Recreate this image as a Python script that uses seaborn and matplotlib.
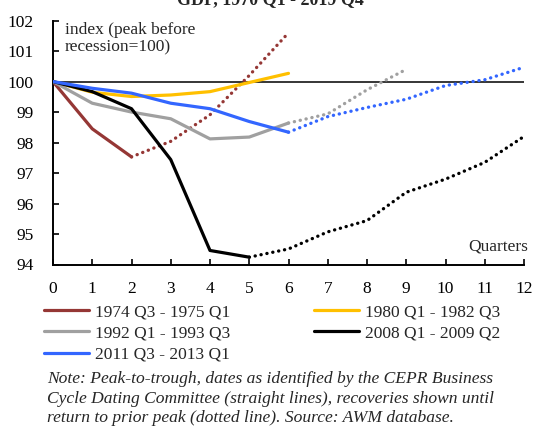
"""GDP recessions in the euro area: peak-to-trough and recovery paths."""

import matplotlib

matplotlib.use("Agg")

import matplotlib.pyplot as plt
import numpy as np
import seaborn as sns

sns.set_theme(style="ticks")
plt.rcParams["font.family"] = ["Liberation Serif", "DejaVu Serif"]

# recession paths (straight lines), quarter 0 = peak
q_1974 = [0, 1, 2]
v_1974 = [100, 98.45, 97.53]
q_1980 = [0, 1, 2, 3, 4, 5, 6]
v_1980 = [100, 99.65, 99.51, 99.56, 99.67, 99.97, 100.27]
q_1992 = [0, 1, 2, 3, 4, 5, 6]
v_1992 = [100, 99.29, 99.0, 98.78, 98.12, 98.18, 98.64]
q_2008 = [0, 1, 2, 3, 4, 5]
v_2008 = [100, 99.67, 99.11, 97.44, 94.46, 94.24]
q_2011 = [0, 1, 2, 3, 4, 5, 6]
v_2011 = [100, 99.78, 99.62, 99.29, 99.11, 98.69, 98.34]

# recoveries (dotted lines)
rq_1974 = [2, 3, 4, 5, 6]
rv_1974 = [97.53, 98.04, 98.91, 100.2, 101.6]
rq_1992 = [6, 7, 8, 9]
rv_1992 = [98.64, 98.94, 99.73, 100.4]
rq_2008 = [5, 6, 7, 8, 9, 10, 11, 12]
rv_2008 = [94.24, 94.51, 95.07, 95.44, 96.37, 96.8, 97.35, 98.2]
rq_2011 = [6, 7, 8, 9, 10, 11, 12]
rv_2011 = [98.34, 98.85, 99.15, 99.42, 99.87, 100.06, 100.47]

labels = ["1974 Q3 - 1975 Q1", "1980 Q1 - 1982 Q3", "1992 Q1 - 1993 Q3",
          "2008 Q1 - 2009 Q2", "2011 Q3 - 2013 Q1"]
colors = ["#953735", "#FFC000", "#A0A0A0", "#000000", "#3366FF"]

fig = plt.figure(figsize=(5.35, 4.28), dpi=100)
ax = fig.add_axes([53 / 535, 1 - 264.5 / 428, 471 / 535, (264.5 - 20.6) / 428])

solid = [(q_1974, v_1974), (q_1980, v_1980), (q_1992, v_1992), (q_2008, v_2008), (q_2011, v_2011)]
dotted = {0: (rq_1974, rv_1974), 2: (rq_1992, rv_1992), 3: (rq_2008, rv_2008), 4: (rq_2011, rv_2011)}

ax.axhline(100, color="black", lw=1.1, zorder=1)
handles = []
for i, (xq, yv) in enumerate(solid):
    sns.lineplot(x=xq, y=yv, ax=ax, color=colors[i], lw=2.3, label=labels[i], zorder=3)
    handles.append(ax.get_lines()[-1])
    if i in dotted:
        dq, dv = dotted[i]
        sns.lineplot(x=dq, y=dv, ax=ax, color=colors[i], lw=2.4, zorder=2,
                     linestyle=(0, (0.05, 1.75)), dash_capstyle="round")
ax.get_legend().remove()

ax.set_xlim(0, 12)
ax.set_ylim(94, 102)
ax.set_xticks(range(13))
ax.set_yticks(range(94, 103))
ax.tick_params(direction="in", length=4, width=1.2, labelsize=12.5, colors="black")
ax.tick_params(axis="x", pad=12)
ax.tick_params(axis="y", pad=14)
for side in ["top", "right"]:
    ax.spines[side].set_visible(False)
for side in ["left", "bottom"]:
    ax.spines[side].set_linewidth(1.4)
    ax.spines[side].set_color("black")

ax.text(0.3, 101.95, "index (peak before\nrecession=100)", fontsize=12.5, va="top", ha="left",
        linespacing=1.1)
ax.text(12.1, 94.6, "Quarters", fontsize=12.5, ha="right", va="center")

fig.text(0.505, 0.9895, "GDP, 1970 Q1 - 2019 Q4", fontsize=13, fontweight="bold",
         ha="center", va="baseline")

order = [0, 2, 4, 1, 3]
fig.legend([handles[k] for k in order], [labels[k] for k in order], ncol=2,
           loc="upper left", bbox_to_anchor=(44 / 535, 1 - 304 / 428), frameon=False,
           fontsize=12.5, handlelength=2.6, handletextpad=0.35, columnspacing=4.8,
           labelspacing=0.3, borderpad=0, borderaxespad=0)

note = ("Note: Peak-to-trough, dates as identified by the CEPR Business\n"
        "Cycle Dating Committee (straight lines), recoveries shown until\n"
        "return to prior peak (dotted line). Source: AWM database.")
fig.text(47 / 535, 1 - 371 / 428, note, fontsize=12.6, style="italic", ha="left", va="top",
         linespacing=1.3)

fig.savefig("out.png", dpi=100)
